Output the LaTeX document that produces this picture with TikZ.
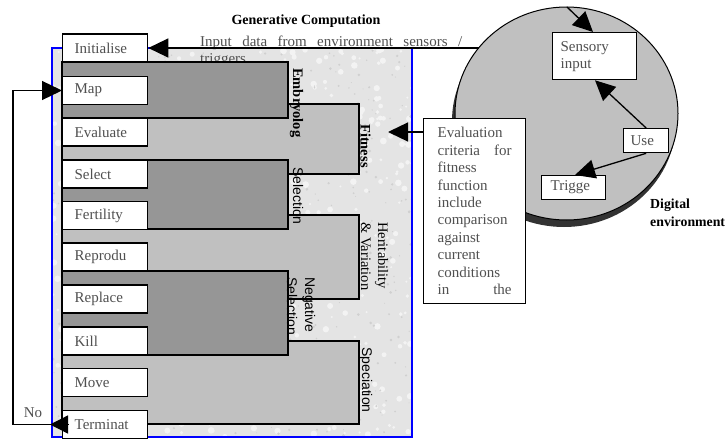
\documentclass[tikz,border=0pt]{standalone}
\usepackage{fontspec}
\setmainfont{Liberation Serif}
\newfontfamily\sansf{Liberation Sans}
\usetikzlibrary{arrows.meta}
\definecolor{frameblue}{RGB}{0,0,255}
\definecolor{darkfill}{RGB}{150,150,150}
\definecolor{lightfill}{RGB}{192,192,192}
\definecolor{texture}{RGB}{228,228,228}
\definecolor{blotch}{RGB}{243,243,243}
\definecolor{speck}{RGB}{208,208,208}
\definecolor{txtgray}{RGB}{80,80,80}
\definecolor{rim}{RGB}{51,51,51}
\begin{document}
\begin{tikzpicture}[x=1pt,y=1pt,
  stepbox/.style={draw=black, line width=1.3pt, fill=white, anchor=west,
    minimum height=28pt, text width=61pt, inner xsep=12pt, inner ysep=0pt,
    align=left, font=\fontsize{15}{17}\selectfont, text=txtgray},
  inbox/.style={draw=black, line width=1.3pt, fill=white, anchor=north west,
    align=left, inner ysep=0pt, font=\fontsize{15}{17}\selectfont, text=txtgray},
  region/.style={draw=black, line width=1.1pt},
  vlab/.style={rotate=-90, anchor=north west, inner sep=0pt, align=left},
  conn/.style={draw=black, line width=1.3pt, -{Triangle[length=20pt,width=19pt]}}
]
\useasboundingbox (0,0) rectangle (728,-439);

% frame with granite-like texture
\fill[texture] (52,-48) rectangle (412,-437);
\begin{scope}
  \clip (52,-48) rectangle (412,-437);
  \pgfmathsetseed{4242}
  \foreach \i in {1,...,650}{
    \pgfmathsetmacro{\px}{52+360*rnd}
    \pgfmathsetmacro{\py}{-48-389*rnd}
    \pgfmathsetmacro{\pr}{1.0+2.4*rnd}
    \fill[blotch] (\px,\py) circle[radius=\pr pt];
  }
  \foreach \i in {1,...,500}{
    \pgfmathsetmacro{\px}{52+360*rnd}
    \pgfmathsetmacro{\py}{-48-389*rnd}
    \pgfmathsetmacro{\pr}{0.5+1.0*rnd}
    \fill[speck] (\px,\py) circle[radius=\pr pt];
  }
\end{scope}
\draw[draw=frameblue, line width=1.3pt] (52,-48) rectangle (412,-437);

% input text
\node[anchor=north west, inner sep=0pt, text width=262pt, align=left,
  font=\fontsize{15}{17}\selectfont, text=txtgray] (inputtxt) at (200,-36)
  {Input\hfill data\hfill from\hfill environment\hfill sensors\hfill /\\triggers};

% regions
\filldraw[region, fill=lightfill] (62,-104) rectangle (359,-174);
\filldraw[region, fill=lightfill] (62,-215) rectangle (359,-299);
\filldraw[region, fill=lightfill] (62,-341) rectangle (359,-424);
\filldraw[region, fill=darkfill] (62,-62) rectangle (288,-118);
\filldraw[region, fill=darkfill] (62,-160) rectangle (288,-229);
\filldraw[region, fill=darkfill] (62,-271) rectangle (288,-355);

% step boxes
\node[stepbox] (ini) at (62,-48) {Initialise};
\node[stepbox] (map) at (62,-90.5) {Map};
\node[stepbox] (eva) at (62,-132) {Evaluate};
\node[stepbox] (sel) at (62,-174) {Select};
\node[stepbox] (fer) at (62,-215.5) {Fertility};
\node[stepbox] (rep) at (62,-257) {Reprodu};
\node[stepbox] (rpl) at (62,-299) {Replace};
\node[stepbox] (kil) at (62,-341) {Kill};
\node[stepbox] (mov) at (62,-382.5) {Move};
\node[stepbox] (ter) at (62,-424.5) {Terminat};

% vertical labels
\node[vlab, font=\bfseries\fontsize{14.5}{17}\selectfont] (lemb) at (303.5,-68) {Embryolog};
\node[vlab, font=\bfseries\fontsize{14.5}{17}\selectfont] (lfit) at (371,-124) {Fitness};
\node[vlab, font=\sansf\fontsize{14}{17}\selectfont] (lsel) at (303.5,-167) {Selection};
\node[vlab, font=\fontsize{14.5}{17}\selectfont] (lher) at (388.5,-222) {Heritability\\\& Variation};
\node[vlab, font=\sansf\fontsize{14}{18}\selectfont] (lneg) at (315.5,-277) {Negative\\Selection};
\node[vlab, font=\sansf\fontsize{14}{17}\selectfont] (lspe) at (372.5,-347) {Speciation};

% title
\node[font=\bfseries\fontsize{14}{17}\selectfont] (title) at (306,-21) {Generative Computation};

% disk
\fill[rim] (564,-121) ellipse [x radius=112pt, y radius=106pt];
\filldraw[draw=black, line width=1pt, fill=lightfill] (566.5,-113.5) ellipse [x radius=111.5pt, y radius=106.5pt];

\coordinate (din) at (478.5,-48);
\coordinate (dtop) at (567,-7);
\coordinate (fitin) at (388,-132);
\coordinate (loopc) at (13,-424.5);

\node[inbox, text width=68pt, inner xsep=8pt, minimum height=47pt] (sens) at (552,-32) {Sensory\\input};
\node[inbox, text width=31pt, inner xsep=7pt, minimum height=24pt] (use) at (623,-128) {Use};
\node[inbox, text width=46pt, inner xsep=9pt, minimum height=24pt] (trig) at (541,-175) {Trigge};

\node[draw=black, line width=1.3pt, fill=white, anchor=north west, text width=74pt,
  inner xsep=14pt, inner ysep=6pt, minimum height=185pt, align=left,
  font=\fontsize{15}{17.4}\selectfont, text=txtgray] (eval) at (423,-118)
  {Evaluation\\criteria\hfill for\\fitness\\function\\include\\comparison\\against\\current\\conditions\\in\hfill the};

\node[anchor=north west, inner sep=0pt, align=left, font=\bfseries\fontsize{13.8}{18}\selectfont] (digi) at (650,-199) {Digital\\environment};

\node[font=\fontsize{15}{17}\selectfont, text=txtgray] (no) at (33,-413) {No};

% connectors
\draw[conn] (din) -- (ini.east);
\draw[conn] ([yshift=-14pt]eval.north west) -- (fitin);
\draw[conn] (dtop) -- ([xshift=41pt]sens.north west);
\draw[conn] (use.north) -- ([xshift=43pt]sens.south west);
\draw[conn] (use.south) -- ([xshift=34pt]trig.north west);
\draw[conn] (ter.west) -- (loopc) |- (map.west);
\draw[conn, -{Triangle[length=18pt,width=18pt]}] ([xshift=6pt]ter.west) -- ([xshift=-12pt]ter.west);
\end{tikzpicture}
\end{document}
